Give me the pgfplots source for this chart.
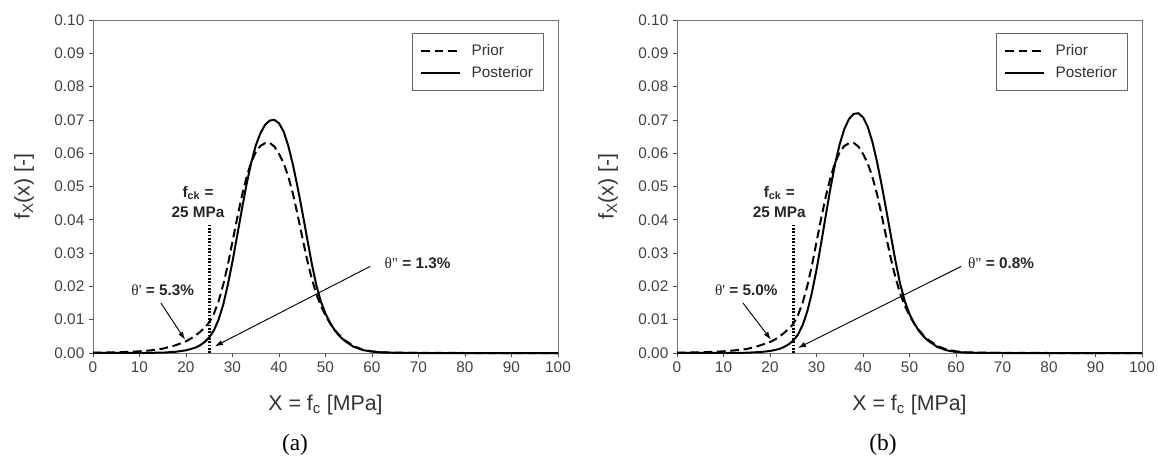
\documentclass[border=0pt]{standalone}
\usepackage{fontspec}
\setmainfont{Liberation Sans}
\newfontfamily\serif{Liberation Serif}
\usepackage{pgfplots}
\pgfplotsset{compat=1.18}
\usepackage{pgfplotstable}
\usetikzlibrary{arrows.meta}

% prior / posterior densities
\pgfplotstableread{
x y
0 0.0001
5 0.0002
10 0.0005
12.5 0.0008
15 0.0013
17.5 0.0022
20 0.0035
21 0.0043
22 0.0052
23 0.0063
24 0.0076
25 0.0092
26 0.0118
27 0.0155
28 0.0205
29 0.0265
30 0.0335
31 0.0405
32 0.0470
33 0.0527
34 0.0572
35 0.0603
36 0.0622
37 0.0630
38 0.0631
39 0.0620
40 0.0598
41 0.0570
42 0.0530
43 0.0478
44 0.0415
45 0.0348
46 0.0283
47 0.0226
48 0.0178
49 0.0142
50 0.0113
51 0.0089
52 0.0069
53 0.0053
54 0.0040
56 0.0021
58 0.0010
60 0.0005
62 0.0002
65 0.0001
70 0.00002
80 0
100 0
}\priorA

\pgfplotstableread{
x y
0 0
10 0.00003
15 0.0001
18 0.0004
20 0.0008
22 0.0016
23 0.0023
24 0.0033
25 0.0047
26 0.0068
27 0.0100
28 0.0145
29 0.0205
30 0.0275
31 0.0352
32 0.0430
33 0.0505
34 0.0570
35 0.0623
36 0.0660
37 0.0685
38 0.0698
39 0.0700
40 0.0690
41 0.0665
42 0.0622
43 0.0565
44 0.0498
45 0.0425
46 0.0348
47 0.0272
48 0.0205
49 0.0155
50 0.0118
51 0.0090
52 0.0068
53 0.0051
54 0.0038
56 0.0019
58 0.0009
60 0.0004
62 0.0002
65 0.00005
70 0
100 0
}\postA

\pgfplotstableread{
x y
0 0.0001
5 0.0002
10 0.0005
12.5 0.0008
15 0.0012
17.5 0.0021
20 0.0033
21 0.0040
22 0.0049
23 0.0060
24 0.0072
25 0.0087
26 0.0113
27 0.0150
28 0.0200
29 0.0262
30 0.0333
31 0.0404
32 0.0470
33 0.0527
34 0.0572
35 0.0603
36 0.0622
37 0.0630
38 0.0631
39 0.0620
40 0.0598
41 0.0570
42 0.0530
43 0.0478
44 0.0415
45 0.0348
46 0.0283
47 0.0226
48 0.0178
49 0.0142
50 0.0113
51 0.0089
52 0.0069
53 0.0053
54 0.0040
56 0.0021
58 0.0010
60 0.0005
62 0.0002
65 0.0001
70 0.00002
80 0
100 0
}\priorB

\pgfplotstableread{
x y
0 0
10 0.00002
15 0.00008
18 0.0003
20 0.0006
22 0.0012
23 0.0018
24 0.0026
25 0.0037
26 0.0055
27 0.0083
28 0.0124
29 0.0180
30 0.0250
31 0.0330
32 0.0413
33 0.0495
34 0.0568
35 0.0628
36 0.0673
37 0.0703
38 0.0718
39 0.0720
40 0.0708
41 0.0680
42 0.0635
43 0.0575
44 0.0505
45 0.0430
46 0.0352
47 0.0275
48 0.0207
49 0.0155
50 0.0117
51 0.0089
52 0.0067
53 0.0050
54 0.0037
56 0.0018
58 0.0008
60 0.0003
62 0.00015
65 0.00004
70 0
100 0
}\postB

\pgfplotsset{
  panel/.style={
    scale only axis, width=348.75pt, height=249.75pt,
    anchor=south west,
    xmin=0, xmax=100, ymin=0, ymax=0.1,
    xtick={0,10,20,30,40,50,60,70,80,90,100},
    ytick={0,0.01,0.02,0.03,0.04,0.05,0.06,0.07,0.08,0.09,0.1},
    scaled y ticks=false,
    yticklabel style={/pgf/number format/.cd, fixed, fixed zerofill, precision=2},
    /pgf/number format/assume math mode=true,
    tick label style={font=\fontsize{11.5}{13}\selectfont, text=black!75},
    xtick pos=bottom, ytick pos=left,
    tick align=outside, major tick length=3pt,
    tick style={black!70, line width=0.6pt},
    axis line style={black!55, line width=0.7pt},
    xlabel={X = f\textsubscript{c} [MPa]},
    ylabel={f\textsubscript{X}(x) [-]},
    every axis x label/.style={at={(axis description cs:0.5,-0.156)}, anchor=center,
      font=\fontsize{16}{19}\selectfont, text=black!80},
    every axis y label/.style={at={(axis description cs:-0.148,0.5)}, rotate=90, anchor=center,
      font=\fontsize{16}{19}\selectfont, text=black!80},
    clip=false,
    legend style={draw=black!60, line width=0.6pt, at={(0.970,0.961)}, anchor=north east,
      inner xsep=6pt, inner ysep=6pt, font=\fontsize{11.5}{14}\selectfont, text=black!80,
      row sep=3pt, /tikz/every odd column/.append style={column sep=6pt}},
    legend cell align=left,
    legend image code/.code={\draw[#1] (0pt,0pt) -- (29pt,0pt);},
  },
  prior/.style={black, line width=1.5pt, dash pattern=on 6.5pt off 3.5pt},
  post/.style={black, line width=1.5pt},
  fck/.style={black, line width=2pt, dash pattern=on 1.2pt off 1.3pt},
}
\tikzset{
  note/.style={font=\bfseries\fontsize{11.5}{13}\selectfont, text=black!85, align=center},
  arr/.style={black, line width=0.7pt, -{Latex[length=6pt,width=4pt]}},
}

\begin{document}
\begin{tikzpicture}
\useasboundingbox (0,0) rectangle (868.5pt,348.75pt);

\begin{axis}[panel, at={(69.75pt,84pt)}]
  \addplot[prior] table {\priorA};
  \addlegendentry{Prior}
  \addplot[post] table {\postA};
  \addlegendentry{Posterior}
  \addplot[fck, forget plot] coordinates {(25,0) (25,0.0385)};
  \node[note] at (axis cs:22.6,0.0481) {f\textsubscript{ck} =};
  \node[note] at (axis cs:22.6,0.0422) {25 MPa};
  \node[note] at (axis cs:15.0,0.0189) {{\serif\mdseries θ'} = 5.3\%};
  \node[note] at (axis cs:69.8,0.0270) {{\serif\mdseries θ"} = 1.3\%};
  \draw[arr] (axis cs:14.6,0.0150) -- (axis cs:19.8,0.0040);
  \draw[arr] (axis cs:59.6,0.0260) -- (axis cs:26.2,0.0020);
\end{axis}

\begin{axis}[panel, at={(507.75pt,84pt)}]
  \addplot[prior] table {\priorB};
  \addlegendentry{Prior}
  \addplot[post] table {\postB};
  \addlegendentry{Posterior}
  \addplot[fck, forget plot] coordinates {(25,0) (25,0.0385)};
  \node[note] at (axis cs:22.0,0.0481) {f\textsubscript{ck} =};
  \node[note] at (axis cs:22.0,0.0422) {25 MPa};
  \node[note] at (axis cs:14.9,0.0189) {{\serif\mdseries θ'} = 5.0\%};
  \node[note] at (axis cs:69.7,0.0270) {{\serif\mdseries θ"} = 0.8\%};
  \draw[arr] (axis cs:14.2,0.0150) -- (axis cs:20.2,0.0040);
  \draw[arr] (axis cs:61.1,0.0260) -- (axis cs:26.0,0.0015);
\end{axis}

\node[font=\serif\fontsize{17.5}{20}\selectfont] at (221.25pt,15pt) {(a)};
\node[font=\serif\fontsize{17.5}{20}\selectfont] at (662.25pt,15pt) {(b)};
\end{tikzpicture}
\end{document}
